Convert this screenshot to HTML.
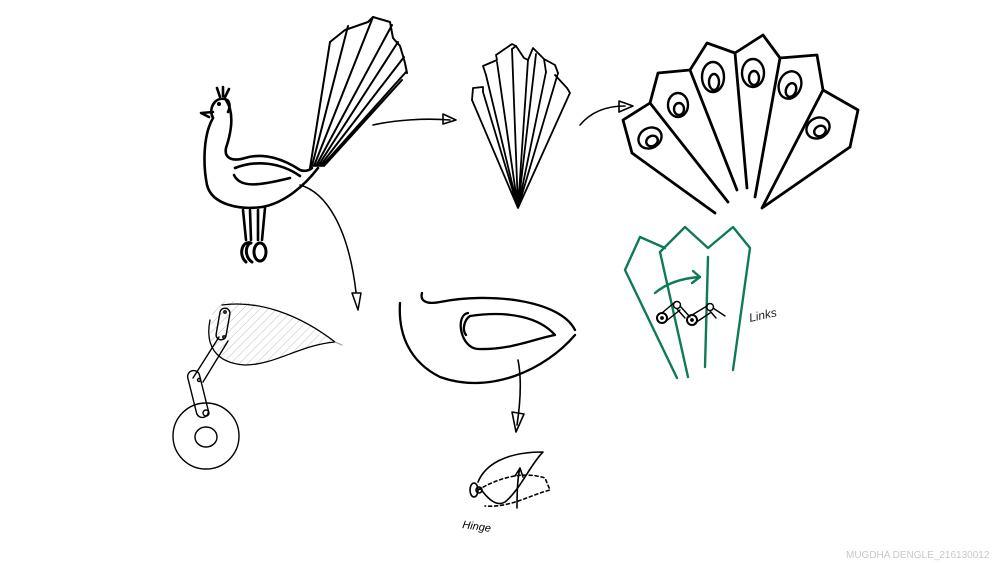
<!DOCTYPE html>
<html><head><meta charset="utf-8"><style>
html,body{margin:0;padding:0;background:#fff;}
svg{display:block}
</style></head><body>
<svg width="1000" height="563" viewBox="0 0 1000 563" xmlns="http://www.w3.org/2000/svg">
<defs>
<pattern id="h" width="6" height="6" patternUnits="userSpaceOnUse" patternTransform="rotate(45)">
<line x1="0" y1="0" x2="0" y2="6" stroke="#bbb" stroke-width="1"/>
</pattern>
</defs>
<g fill="none" stroke="#000" stroke-linecap="round" stroke-linejoin="round">
<!-- peacock -->
<g stroke-width="2.6">
<path d="M213,118 C203,135 203,165 207,185 C212,205 240,210 262,207 C285,203 305,185 318,168"/>
<path d="M226,100 C234,112 232,130 226,148 C224,158 232,162 245,158 C265,152 285,160 300,170 C305,172 310,170 312,168"/>
<path d="M213,118 C208,108 215,97 225,99 C231,101 230,108 228,112"/>
<path d="M213,112 L201,113 L209,117"/>
<path d="M235,168 C255,160 280,162 300,176"/>
<path d="M234,175 C240,188 258,186 290,178"/>
<path d="M220,97 L217,88 M223,96 L223,87 M225,97 L229,89"/>
<path d="M243,210 L246,240 M250,210 L251,240 M258,210 L258,240 M265,208 L262,240"/>
<path d="M251,243 C242,240 238,255 246,262 M252,262 C246,258 244,248 250,243" stroke-width="3"/>
<ellipse cx="260" cy="252" rx="6" ry="9" stroke-width="3"/>
</g>
<circle cx="219" cy="104" r="1.5" fill="#000"/>
<!-- tail fan -->
<g stroke-width="2">
<path d="M310,168 L330,42 M312,166 L348,26 M314,166 L373,17 M316,166 L392,25 M318,166 L398,42 M320,166 L404,57 M322,166 L406,72 M324,166 L402,80"/>
<path d="M330,42 L345,30 L368,22 L373,17 L390,22 L393,38 L400,46 L403,56 L405,63 L407,73"/>
<path d="M300,185 C325,192 348,225 356,292" stroke-width="1.5"/>
</g>
<!-- arrow 1 -->
<path d="M373,125 C395,120 425,118 450,120" stroke-width="1.6"/>
<path d="M443,114 L456,120 L443,124 Z" stroke-width="1.6"/>
<!-- fan 2 -->
<g stroke-width="1.8">
<path d="M518,208 L472,100 M518,208 L483,92 M518,208 L486,75 M518,208 L497,62 M518,208 L512,49 M518,208 L528,60 M518,208 L536,54 M518,208 L546,72 M518,208 L558,73 M518,208 L569,95"/>
<path d="M472,100 L473,88 L483,87 L483,92 M486,75 L483,66 L497,60 L496,55 L512,44 L516,46 L512,49 M516,46 L524,58 L528,60 L533,48 L544,59 L546,72 M544,59 L555,65 L558,73 M555,75 L567,88 L570,93 L569,95"/>
</g>
<!-- arrow 2 -->
<path d="M580,125 C590,113 605,106 625,106" stroke-width="1.6"/>
<path d="M619,101 L633,106 L619,112 Z" stroke-width="1.6"/>
<!-- big fan -->
<g stroke-width="2.8">
<path d="M632,153 L623,120 L650,103 L658,73 L690,70 L707,43 L735,53 L763,35 L780,58 L817,55 L823,90 L858,110 L850,147"/>
<path d="M632,153 L715,213 M650,103 L728,202 M690,70 L737,190 M735,53 L747,188 M780,58 L755,197 M823,90 L762,208 M850,147 L762,208"/>
</g>
<g stroke-width="2.4">
<ellipse cx="650" cy="138" rx="12" ry="10" transform="rotate(-30 650 138)"/>
<ellipse cx="652" cy="141" rx="6" ry="5" transform="rotate(-30 652 141)"/>
<ellipse cx="678" cy="105" rx="10" ry="12"/>
<ellipse cx="679" cy="109" rx="5" ry="6"/>
<ellipse cx="713" cy="77" rx="11" ry="15"/>
<ellipse cx="714" cy="82" rx="5" ry="8"/>
<ellipse cx="753" cy="73" rx="11" ry="14"/>
<ellipse cx="754" cy="78" rx="5" ry="7"/>
<ellipse cx="790" cy="85" rx="11" ry="14" transform="rotate(20 790 85)"/>
<ellipse cx="791" cy="90" rx="5" ry="7" transform="rotate(20 791 90)"/>
<ellipse cx="818" cy="128" rx="12" ry="10" transform="rotate(-30 818 128)"/>
<ellipse cx="820" cy="131" rx="6" ry="5" transform="rotate(-30 820 131)"/>
</g>
<!-- green fan -->
<g stroke="#0f7a5a" stroke-width="2.4">
<path d="M677,378 L625,270 L640,237 L665,248 M660,252 L685,227 L708,248 L733,227 L750,248 L733,370"/>
<path d="M660,252 L688,377 M708,257 L705,367"/>
<path d="M655,293 C668,282 685,278 700,277"/>
<path d="M693,271 L700,277 L692,283"/>
</g>
<g stroke-width="1.4">
<circle cx="662" cy="318" r="5" stroke-width="2"/><circle cx="662" cy="318" r="1.2" fill="#000"/>
<path d="M662,313 L675,302 M665,322 L680,310"/>
<circle cx="677" cy="305" r="3.5"/><path d="M677,309 L685,318 M680,306 L690,317"/>
<circle cx="692" cy="320" r="5" stroke-width="2"/><circle cx="692" cy="320" r="1.2" fill="#000"/>
<path d="M692,315 L707,306 M695,323 L710,313"/>
<circle cx="710" cy="307" r="3.5"/><path d="M710,311 L716,318 M713,308 L725,316"/>
</g>
<!-- bottom left mechanism -->
<path d="M215,303 C250,295 300,315 335,342 C300,345 275,365 240,365 C210,362 205,335 215,303 Z" fill="url(#h)" stroke="none"/>
<path d="M222,305 C260,300 300,315 335,342 C300,345 275,365 245,365 C215,363 205,345 210,320" stroke-width="1.3"/>
<path d="M335,342 L342,345" stroke="#999" stroke-width="1"/>
<g stroke-width="1.4">
<rect x="218" y="308" width="10" height="32" rx="5" transform="rotate(10 223 324)"/>
<path d="M219,337 L193,378 M228,341 L203,382"/>
<rect x="192" y="370" width="12" height="48" rx="6" transform="rotate(-14 198 394)"/>
<circle cx="199" cy="380" r="1.5"/><circle cx="206" cy="413" r="3"/>
<circle cx="225" cy="312" r="1.2"/><circle cx="224" cy="337" r="1.2"/>
<circle cx="206" cy="436" r="33"/>
<ellipse cx="206" cy="437" rx="11" ry="10"/>
</g>
<!-- arrow down to middle -->
<path d="M352,293 L361,293 L358,310 Z" stroke-width="1.5"/>
<!-- eye shape -->
<g stroke-width="2.3">
<path d="M400,303 C398,335 410,362 440,377 C490,395 545,370 575,335"/>
<path d="M422,293 C420,300 425,305 440,302 C490,292 560,300 575,330"/>
<path d="M468,313 C455,315 460,348 478,349 C510,350 530,340 555,335 C540,318 510,310 470,316 C464,320 462,330 466,335"/>
</g>
<path d="M518,360 C522,380 520,405 517,425" stroke-width="1.6"/>
<path d="M512,412 L524,414 L516,432 Z" stroke-width="1.6"/>
<!-- hinge -->
<g stroke-width="1.6">
<path d="M478,482 C485,465 505,452 543,452 C530,465 520,490 505,502 C495,508 485,495 480,488"/>
<path d="M478,490 C495,480 520,470 545,478 L550,490 C530,495 510,508 485,506" stroke-dasharray="3,3"/>
<path d="M517,508 C517,490 518,475 520,468 M515,476 L520,468 L523,477"/>
<ellipse cx="474" cy="490" rx="4" ry="7"/>
<circle cx="479" cy="490" r="3"/>
</g>
</g>
<text x="462" y="528" font-family="Liberation Sans, sans-serif" font-size="11" font-style="italic" fill="#000" transform="rotate(8 462 528)">Hinge</text>
<text x="750" y="322" font-family="Liberation Sans, sans-serif" font-size="12" font-style="italic" fill="#222" transform="rotate(-12 750 322)">Links</text>
<text x="846" y="558" font-family="Liberation Sans, sans-serif" font-size="10" fill="#c8c8c8">MUGDHA DENGLE_216130012</text>
</svg>
</body></html>
